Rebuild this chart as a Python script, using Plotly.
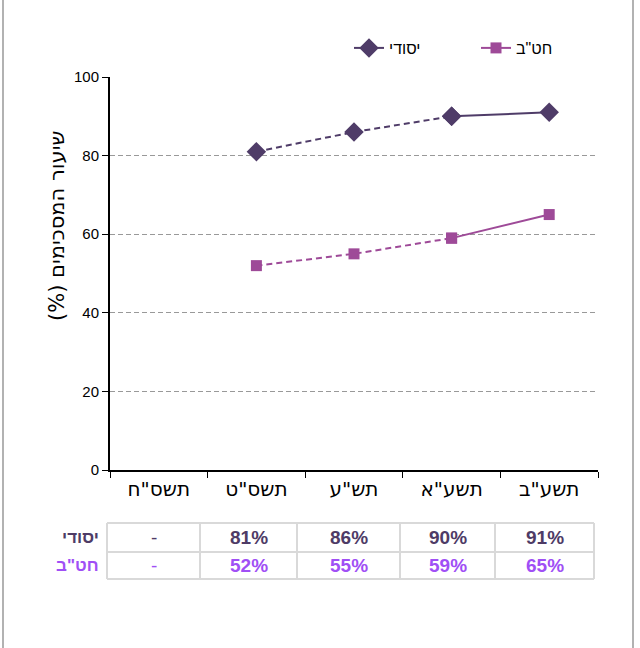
import plotly.graph_objects as go

# ---- data ----
years = ['תשס"ח', 'תשס"ט', 'תש"ע', 'תשע"א', 'תשע"ב']
yesodi = [None, 81, 86, 90, 91]
hativa = [None, 52, 55, 59, 65]
series_names = ['יסודי', 'חט"ב']
y_title = 'שיעור המסכימים (%)'

C_YES = '#4f3c68'
C_HAT = '#9e4a98'
T_YES = '#4e3b66'
T_HAT = '#a04ff5'
FONT = 'Liberation Sans, Arial, sans-serif'
HFONT = 'DejaVu Sans, sans-serif'

W, H = 640, 648
L, R, T, B = 110, 42, 77, 178
PW, PH = W - L - R, H - T - B


def px(x):
    return (x - L) / PW


def py(y):
    return (H - B - y) / PH


fig = go.Figure()

for name, vals, col, sym, size in [
    (series_names[0], yesodi, C_YES, 'diamond', 15),
    (series_names[1], hativa, C_HAT, 'square', 11),
]:
    # dashed part (all but the last segment)
    fig.add_trace(go.Scatter(
        x=years[:-1], y=vals[:-1], mode='lines+markers', name=name,
        line=dict(color=col, width=2, dash='6px,4px'),
        marker=dict(symbol=sym, size=size, color=col),
        showlegend=False, hoverinfo='skip'))
    # solid last segment (also legend entry)
    fig.add_trace(go.Scatter(
        x=years[-2:], y=vals[-2:], mode='lines+markers', name=name,
        line=dict(color=col, width=2),
        marker=dict(symbol=sym, size=size, color=col),
        showlegend=True))

shapes = []
annotations = []

# side borders
for xb in (3, 633):
    shapes.append(dict(type='line', xref='paper', yref='paper',
                       x0=px(xb), x1=px(xb), y0=py(H), y1=py(0),
                       line=dict(color='#999999', width=1.5)))

# table
col_edges = [107, 200, 297, 400, 495, 594]
row_edges = [523, 552, 579]
for ye in row_edges:
    shapes.append(dict(type='line', xref='paper', yref='paper',
                       x0=px(col_edges[0]), x1=px(col_edges[-1]),
                       y0=py(ye), y1=py(ye),
                       line=dict(color='#d9d9d9', width=2)))
for xe in col_edges:
    shapes.append(dict(type='line', xref='paper', yref='paper',
                       x0=px(xe), x1=px(xe),
                       y0=py(row_edges[0]), y1=py(row_edges[-1]),
                       line=dict(color='#d9d9d9', width=2)))

rows = [(series_names[0], yesodi, T_YES), (series_names[1], hativa, T_HAT)]
for r, (name, vals, tc) in enumerate(rows):
    yc = (row_edges[r] + row_edges[r + 1]) / 2
    annotations.append(dict(xref='paper', yref='paper', x=px(101), y=py(yc),
                            xanchor='right', yanchor='middle', showarrow=False,
                            text=f'<b>{name}</b>',
                            font=dict(family=FONT, size=17, color=tc)))
    for i, v in enumerate(vals):
        xc = (col_edges[i] + col_edges[i + 1]) / 2
        txt = '-' if v is None else f'<b>{v}%</b>'
        annotations.append(dict(xref='paper', yref='paper', x=px(xc), y=py(yc),
                                xanchor='center', yanchor='middle', showarrow=False,
                                text=txt,
                                font=dict(family=FONT, size=19, color=tc)))

# y-axis title (embedded right-to-left so "(%)" ends up at the bottom)
annotations.append(dict(xref='paper', yref='paper', x=px(57), y=py(226),
                        xanchor='center', yanchor='middle', showarrow=False,
                        text='\u202b' + y_title + '\u202c', textangle=-90,
                        font=dict(family=HFONT, size=21, color='black')))

fig.update_layout(
    width=W, height=H,
    margin=dict(l=L, r=R, t=T, b=B, autoexpand=False),
    paper_bgcolor='white', plot_bgcolor='white',
    font=dict(family=FONT, size=14, color='black'),
    showlegend=True,
    legend=dict(orientation='h', x=px(349), y=py(48), xanchor='left', yanchor='middle',
                font=dict(family=FONT, size=16, color='black'),
                bgcolor='rgba(0,0,0,0)', entrywidth=82, traceorder='normal'),
    xaxis=dict(type='category', categoryorder='array', categoryarray=years,
               range=[-0.5, 4.5], showline=True, linecolor='black', linewidth=2,
               ticks='outside', ticklen=6, tickcolor='black', tickwidth=1,
               tickson='boundaries', showgrid=False, zeroline=False,
               tickfont=dict(family=HFONT, size=20)),
    yaxis=dict(range=[0, 100], dtick=20, showline=True, linecolor='black', linewidth=2,
               ticks='outside', ticklen=6, tickcolor='black', tickwidth=1,
               showgrid=True, gridcolor='#999999', griddash='5px,3px', gridwidth=1,
               zeroline=False, tickfont=dict(family=FONT, size=15)),
    shapes=shapes, annotations=annotations,
)

fig.write_html('out.html', config={'displayModeBar': False},
               post_script="document.body.style.margin='0';document.body.style.overflow='hidden';")
